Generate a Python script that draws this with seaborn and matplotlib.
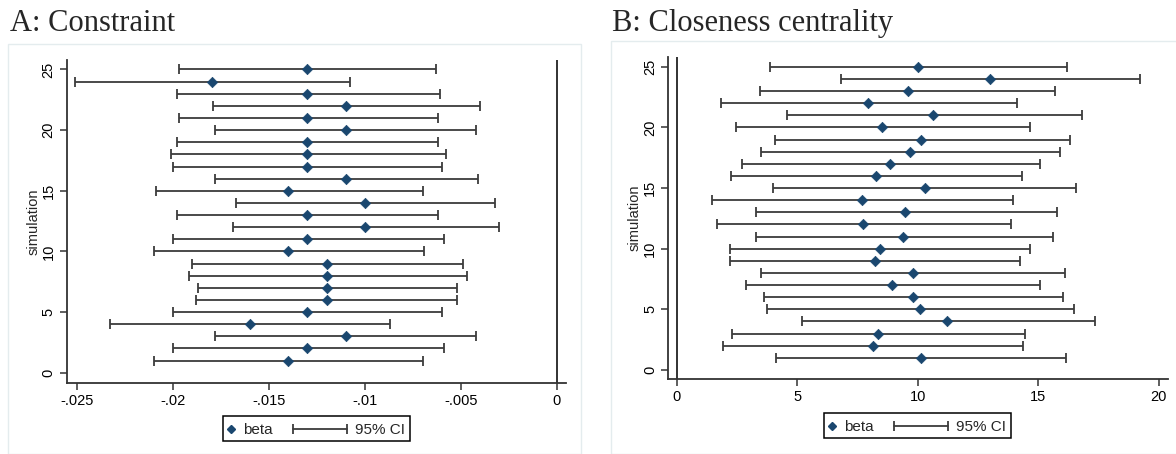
import numpy as np
import pandas as pd
import matplotlib
matplotlib.use('Agg')
import matplotlib.pyplot as plt
from matplotlib.patches import Rectangle
from matplotlib.lines import Line2D
import seaborn as sns

sns.set_theme(style='white')
plt.rcParams['font.family'] = ['Liberation Sans', 'DejaVu Sans']

# --- data ---
sims = list(range(1, 26))

beta_a = [-0.014, -0.013, -0.011, -0.016, -0.013, -0.012, -0.012, -0.012, -0.012, -0.014,
          -0.013, -0.010, -0.013, -0.010, -0.014, -0.011, -0.013, -0.013, -0.013, -0.011,
          -0.013, -0.011, -0.013, -0.018, -0.013]
lo_a = [-0.0210, -0.0200, -0.0178, -0.0233, -0.0200, -0.0188, -0.0187, -0.0192, -0.0190, -0.0210,
        -0.0200, -0.0169, -0.0198, -0.0167, -0.0209, -0.0178, -0.0200, -0.0201, -0.0198, -0.0178,
        -0.0197, -0.0179, -0.0198, -0.0251, -0.0197]
hi_a = [-0.0070, -0.0059, -0.0042, -0.0087, -0.0060, -0.0052, -0.0052, -0.0047, -0.0049, -0.0069,
        -0.0059, -0.0030, -0.0062, -0.0032, -0.0070, -0.0041, -0.0060, -0.0058, -0.0062, -0.0042,
        -0.0062, -0.0040, -0.0061, -0.0108, -0.0063]

beta_b = [10.14, 8.13, 8.34, 11.23, 10.09, 9.79, 8.93, 9.79, 8.24, 8.43,
          9.37, 7.73, 9.48, 7.67, 10.29, 8.28, 8.83, 9.68, 10.14, 8.52,
          10.64, 7.95, 9.59, 12.99, 10.00]
lo_b = [4.12, 1.90, 2.31, 5.21, 3.75, 3.60, 2.89, 3.51, 2.23, 2.23,
        3.27, 1.66, 3.27, 1.46, 4.01, 2.27, 2.71, 3.51, 4.06, 2.46,
        4.58, 1.85, 3.46, 6.81, 3.86]
hi_b = [16.15, 14.36, 14.45, 17.35, 16.47, 16.03, 15.06, 16.11, 14.25, 14.66,
        15.62, 13.87, 15.76, 13.96, 16.56, 14.33, 15.06, 15.91, 16.30, 14.66,
        16.82, 14.13, 15.71, 19.21, 16.17]

titles = ['A: Constraint', 'B: Closeness centrality']
legend_labels = ['beta', '95% CI']
xticks_a = [-0.025, -0.02, -0.015, -0.01, -0.005, 0]
xticklabels_a = ['-.025', '-.02', '-.015', '-.01', '-.005', '0']
xticks_b = [0, 5, 10, 15, 20]
yticks = [0, 5, 10, 15, 20, 25]

df_a = pd.DataFrame({'simulation': sims, 'beta': beta_a, 'lo': lo_a, 'hi': hi_a})
df_b = pd.DataFrame({'simulation': sims, 'beta': beta_b, 'lo': lo_b, 'hi': hi_b})

navy = '#1a476f'
bar_col = '#3c3c3c'
frame_col = '#e4ecee'
W, H = 1176, 454
FS = 10.5

fig = plt.figure(figsize=(W / 100, H / 100), dpi=100)
fig.patch.set_facecolor('white')

# faint graph-region frames
fig.add_artist(Rectangle((8 / W, 0), (581 - 8) / W, 1 - 44 / H, transform=fig.transFigure,
                         fill=False, edgecolor=frame_col, lw=1))
fig.add_artist(Rectangle((611 / W, 0), (1180 - 611) / W, 1 - 41 / H, transform=fig.transFigure,
                         fill=False, edgecolor=frame_col, lw=1))

ax_a = fig.add_axes([66.7 / W, 1 - 382.7 / H, (566 - 66.7) / W, (382.7 - 60) / H])
ax_b = fig.add_axes([668.3 / W, 1 - 379.3 / H, (1168.3 - 668.3) / W, (379.3 - 56.7) / H])


def draw_panel(ax, df, xlim, ylim):
    ax.errorbar(df['beta'], df['simulation'],
                xerr=[df['beta'] - df['lo'], df['hi'] - df['beta']],
                fmt='none', ecolor=bar_col, elinewidth=1.3, capsize=3.5,
                capthick=1.3, zorder=2)
    sns.scatterplot(data=df, x='beta', y='simulation', marker='D', s=28, color=navy,
                    edgecolor=navy, linewidth=0.5, ax=ax, zorder=3, legend=False)
    ax.axvline(0, color='#222222', lw=1.3, zorder=1)
    ax.set_xlim(*xlim)
    ax.set_ylim(*ylim)
    ax.set_yticks(yticks)
    ax.set_yticklabels([str(t) for t in yticks], rotation=90, va='center')
    ax.set_ylabel('simulation', fontsize=FS, labelpad=1)
    ax.set_xlabel('')
    sns.despine(ax=ax)
    for s in ['left', 'bottom']:
        ax.spines[s].set_color('#333333')
        ax.spines[s].set_linewidth(1.3)
    ax.tick_params(axis='both', direction='out', length=5, width=1.1, color='#333333',
                   labelsize=FS, colors='black', left=True, bottom=True, pad=3)
    ax.grid(False)


def draw_key(x0, y0):
    # legend box drawn in figure pixels (x0, y0 = top-left corner)
    tf = fig.transFigure
    w, h = 187, 25
    fig.add_artist(Rectangle((x0 / W, 1 - (y0 + h) / H), w / W, h / H, transform=tf,
                             fill=False, edgecolor='black', lw=1.1))
    yc = 1 - (y0 + h / 2) / H
    fig.add_artist(Line2D([(x0 + 8) / W], [yc], transform=tf, marker='D', color=navy,
                          markersize=4, linestyle='none'))
    fig.text((x0 + 20) / W, yc, legend_labels[0], fontsize=FS + 0.5, ha='left', va='center_baseline')
    fig.add_artist(Line2D([(x0 + 70) / W, (x0 + 124) / W], [yc, yc], transform=tf,
                          color=bar_col, lw=1.3, marker='|', markersize=7, markeredgewidth=1.3))
    fig.text((x0 + 132) / W, yc, legend_labels[1], fontsize=FS + 0.5, ha='left', va='center_baseline')


draw_panel(ax_a, df_a, (-0.02555, 0.00048), (-0.82, 25.78))
ax_a.set_xticks(xticks_a)
ax_a.set_xticklabels(xticklabels_a)

draw_panel(ax_b, df_b, (-0.35, 20.39), (-0.77, 25.83))
ax_b.set_xticks(xticks_b)
ax_b.set_xticklabels([str(t) for t in xticks_b])

# titles
fig.text(10 / W, 1 - 31 / H, titles[0], fontsize=22, family=['Liberation Serif', 'DejaVu Serif'],
         ha='left', va='baseline')
fig.text(612 / W, 1 - 31 / H, titles[1], fontsize=22, family=['Liberation Serif', 'DejaVu Serif'],
         ha='left', va='baseline')

draw_key(222.7, 416)
draw_key(824, 413)

fig.savefig('out.png', dpi=100)
